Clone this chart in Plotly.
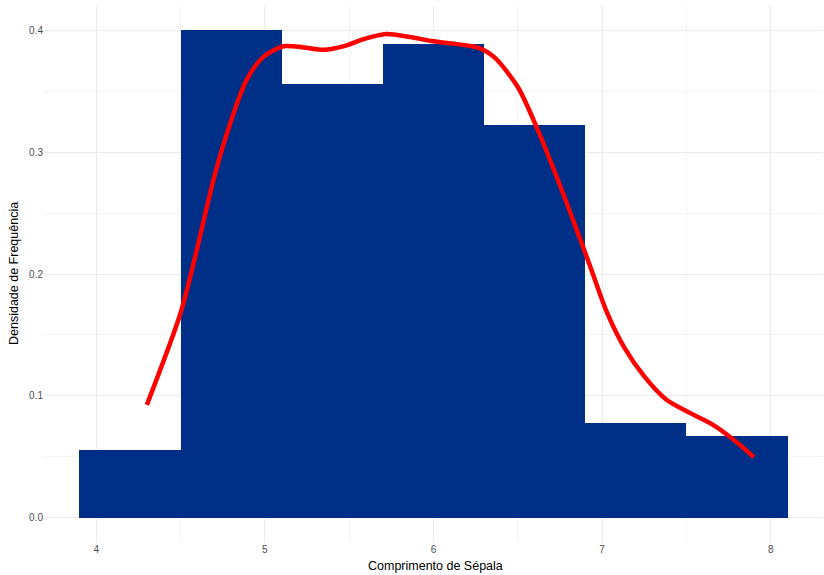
import plotly.graph_objects as go

# Histogram (binwidth 0.6) of sepal length, density scale
bin_centers = [4.2, 4.8, 5.4, 6.0, 6.6, 7.2, 7.8]
bin_density = [0.0556, 0.4000, 0.3556, 0.3889, 0.3222, 0.0778, 0.0667]
bin_width = 0.6

# Density curve
dens_x = [4.30, 4.50, 4.60, 4.70, 4.80, 4.89, 4.99, 5.11, 5.23, 5.35, 5.47, 5.59,
          5.72, 5.86, 6.00, 6.15, 6.26, 6.36, 6.50, 6.61, 6.73, 6.85, 6.93, 7.03,
          7.13, 7.25, 7.38, 7.52, 7.66, 7.78, 7.90]
dens_y = [0.0926, 0.168, 0.222, 0.280, 0.326, 0.359, 0.378, 0.387, 0.386, 0.384, 0.387, 0.393,
          0.397, 0.3945, 0.391, 0.3885, 0.386, 0.378, 0.3535, 0.321, 0.280, 0.236, 0.206, 0.168,
          0.140, 0.116, 0.097, 0.086, 0.076, 0.064, 0.0497]

x_ticks = [4, 5, 6, 7, 8]
y_ticks = [0.0, 0.1, 0.2, 0.3, 0.4]
y_tick_text = ["0.0", "0.1", "0.2", "0.3", "0.4"]

fig = go.Figure()
fig.add_trace(go.Bar(
    x=bin_centers, y=bin_density, width=bin_width,
    marker=dict(color="#002F87", line=dict(width=0)),
    showlegend=False, hoverinfo="x+y"))
fig.add_trace(go.Scatter(
    x=dens_x, y=dens_y, mode="lines",
    line=dict(color="#FF0000", width=4.5, shape="spline", smoothing=0.8),
    showlegend=False))

grid_major = "#EBEBEB"
grid_minor = "#F3F3F3"
tick_font = dict(family="Liberation Sans, Arial, sans-serif", size=10, color="#4D4D4D")

fig.update_layout(
    width=824, height=575,
    margin=dict(l=44, r=1, t=6, b=33, autoexpand=False),
    paper_bgcolor="white", plot_bgcolor="white",
    bargap=0,
    font=dict(family="Liberation Sans, Arial, sans-serif"),
    xaxis=dict(range=[3.69, 8.31], tickvals=x_ticks, ticktext=[str(v) for v in x_ticks],
               showgrid=True, gridcolor=grid_major, gridwidth=1, zeroline=False,
               showline=False, ticks="", ticklen=0, tickfont=tick_font, automargin=False,
               minor=dict(dtick=0.5, tick0=3.5, showgrid=True, gridcolor=grid_minor, gridwidth=0.6)),
    yaxis=dict(range=[-0.02, 0.42], tickvals=y_ticks, ticktext=y_tick_text,
               showgrid=True, gridcolor=grid_major, gridwidth=1, zeroline=False,
               showline=False, ticks="", ticklen=0, tickfont=tick_font, automargin=False,
               minor=dict(dtick=0.05, tick0=0.05, showgrid=True, gridcolor=grid_minor, gridwidth=0.6)),
    annotations=[
        dict(text="Comprimento de Sépala", xref="paper", yref="paper", x=0.502, y=0,
             yshift=-24, xanchor="center", yanchor="middle", showarrow=False,
             font=dict(family="Liberation Sans, Arial, sans-serif", size=12.5, color="black")),
        dict(text="Densidade de Frequência", xref="paper", yref="paper", x=0, y=0.5,
             xshift=-30, textangle=-90, xanchor="center", yanchor="middle", showarrow=False,
             font=dict(family="Liberation Sans, Arial, sans-serif", size=12.5, color="black")),
    ],
)

fig.write_html("out.html", config={"displayModeBar": False},
               post_script="document.body.style.margin='0';document.body.style.padding='0';")
